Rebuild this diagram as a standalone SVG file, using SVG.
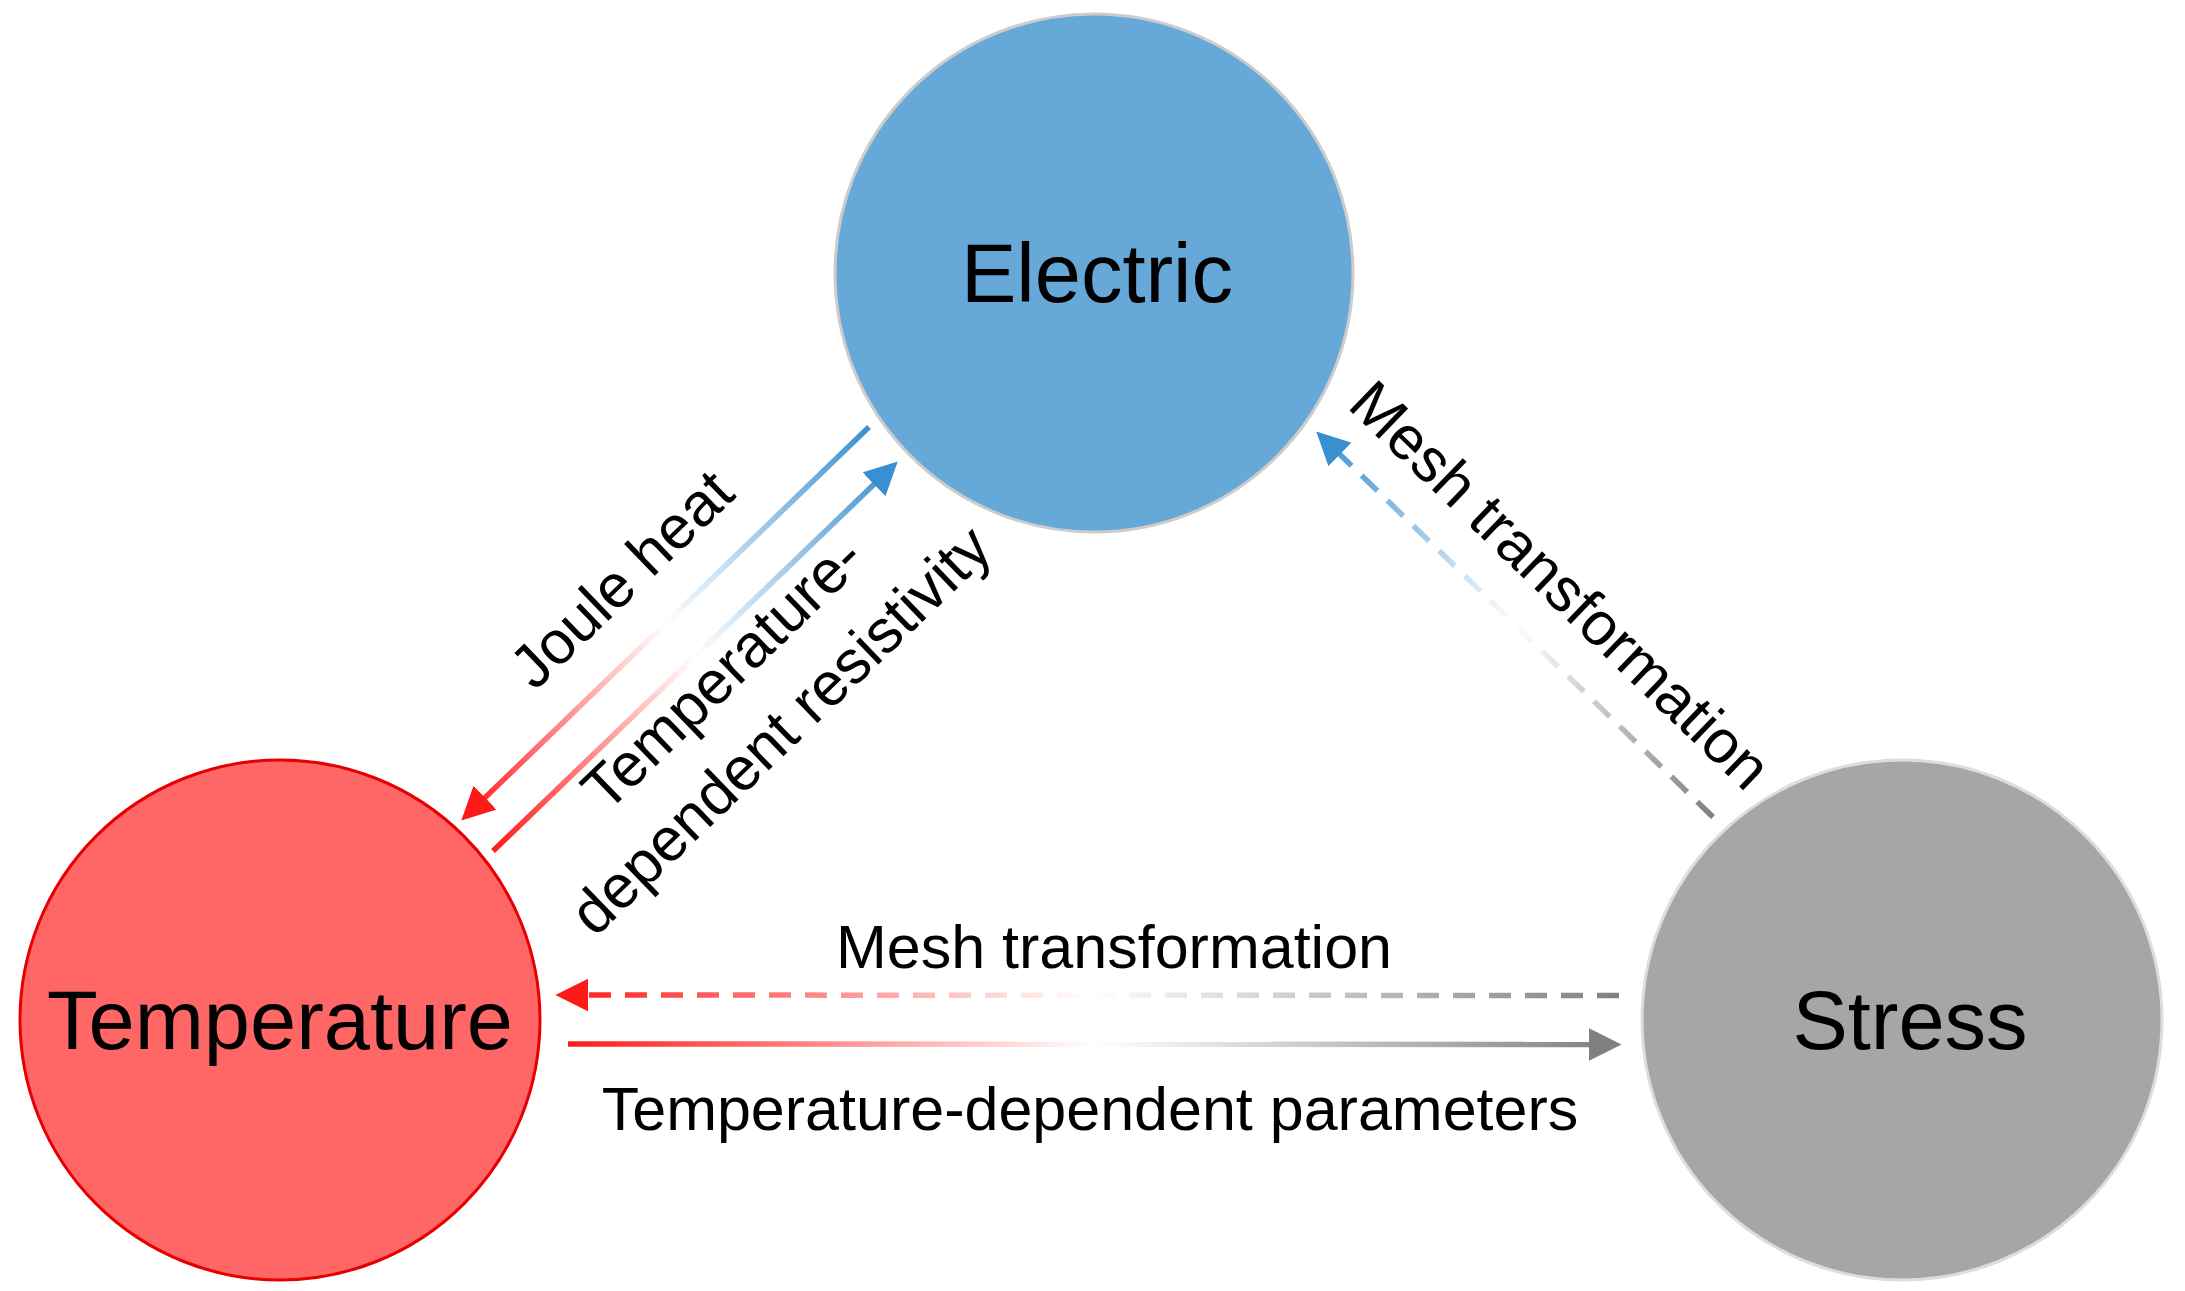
<svg xmlns="http://www.w3.org/2000/svg" width="2185" height="1291" viewBox="0 0 2185 1291">
<style>
.lbl{font-family:"Liberation Sans",Arial,sans-serif;font-size:61px;fill:#000}
.big{font-family:"Liberation Sans",Arial,sans-serif;font-size:83px;fill:#000;text-anchor:middle;dominant-baseline:central}
.c{fill:none;stroke-width:5.5}
.d{stroke-dasharray:22 14}
</style>
<defs>
<marker id="mr" viewBox="0 0 10 10" refX="8" refY="5" markerWidth="6" markerHeight="6" orient="auto" markerUnits="strokeWidth"><path d="M0,0 L10,5 L0,10 z" fill="#ff1a1a"/></marker>
<marker id="mb" viewBox="0 0 10 10" refX="8" refY="5" markerWidth="6" markerHeight="6" orient="auto" markerUnits="strokeWidth"><path d="M0,0 L10,5 L0,10 z" fill="#3a8fd0"/></marker>
<marker id="mg" viewBox="0 0 10 10" refX="8" refY="5" markerWidth="6" markerHeight="6" orient="auto" markerUnits="strokeWidth"><path d="M0,0 L10,5 L0,10 z" fill="#808080"/></marker>
<linearGradient id="g1" gradientUnits="userSpaceOnUse" x1="869" y1="427" x2="462" y2="820"><stop offset="0" stop-color="#3a8fd0"/><stop offset="0.5" stop-color="#fff"/><stop offset="1" stop-color="#ff1a1a"/></linearGradient>
<linearGradient id="g2" gradientUnits="userSpaceOnUse" x1="493" y1="851" x2="897" y2="462"><stop offset="0" stop-color="#ff1a1a"/><stop offset="0.5" stop-color="#fff"/><stop offset="1" stop-color="#3a8fd0"/></linearGradient>
<linearGradient id="g3" gradientUnits="userSpaceOnUse" x1="1713" y1="817" x2="1317" y2="432"><stop offset="0" stop-color="#808080"/><stop offset="0.5" stop-color="#fff"/><stop offset="1" stop-color="#3a8fd0"/></linearGradient>
<linearGradient id="g4" gradientUnits="userSpaceOnUse" x1="1619" y1="0" x2="558" y2="0"><stop offset="0" stop-color="#808080"/><stop offset="0.5" stop-color="#fff"/><stop offset="1" stop-color="#ff1a1a"/></linearGradient>
<linearGradient id="g5" gradientUnits="userSpaceOnUse" x1="568" y1="0" x2="1619" y2="0"><stop offset="0" stop-color="#ff1a1a"/><stop offset="0.5" stop-color="#fff"/><stop offset="1" stop-color="#808080"/></linearGradient>
</defs>
<g id="electric"><circle cx="1094" cy="273" r="259" fill="#66a8d8" stroke="#ccc" stroke-width="3"/><text class="big" x="1097" y="273">Electric</text></g>
<g id="temperature"><circle cx="280" cy="1020" r="260" fill="#ff6666" stroke="#e60000" stroke-width="3"/><text class="big" x="280" y="1020">Temperature</text></g>
<g id="stress"><circle cx="1902" cy="1020" r="260" fill="#a6a6a6" stroke="#ddd" stroke-width="3"/><text class="big" x="1910" y="1020">Stress</text></g>
<g id="connectors">
<line class="c" x1="869" y1="427" x2="466" y2="816" stroke="url(#g1)" marker-end="url(#mr)"/>
<line class="c" x1="493" y1="851" x2="893" y2="466" stroke="url(#g2)" marker-end="url(#mb)"/>
<line class="c d" x1="1713" y1="817" x2="1321" y2="436" stroke="url(#g3)" marker-end="url(#mb)"/>
<line class="c d" x1="1619" y1="995.5" x2="562" y2="995" stroke="url(#g4)" marker-end="url(#mr)"/>
<line class="c" x1="568" y1="1044" x2="1615" y2="1044.5" stroke="url(#g5)" marker-end="url(#mg)"/>
</g>
<g id="labels">
<text class="lbl" text-anchor="middle" transform="translate(636,594) rotate(-44)">Joule heat</text>
<text class="lbl" text-anchor="middle" transform="translate(737,688) rotate(-44)">Temperature-</text>
<text class="lbl" text-anchor="middle" transform="translate(795,745) rotate(-44)">dependent resistivity</text>
<text class="lbl" text-anchor="middle" transform="translate(1546,600) rotate(44)">Mesh transformation</text>
<text class="lbl" text-anchor="middle" x="1114" y="968">Mesh transformation</text>
<text class="lbl" text-anchor="middle" x="1090" y="1130">Temperature-dependent parameters</text>
</g>
</svg>
